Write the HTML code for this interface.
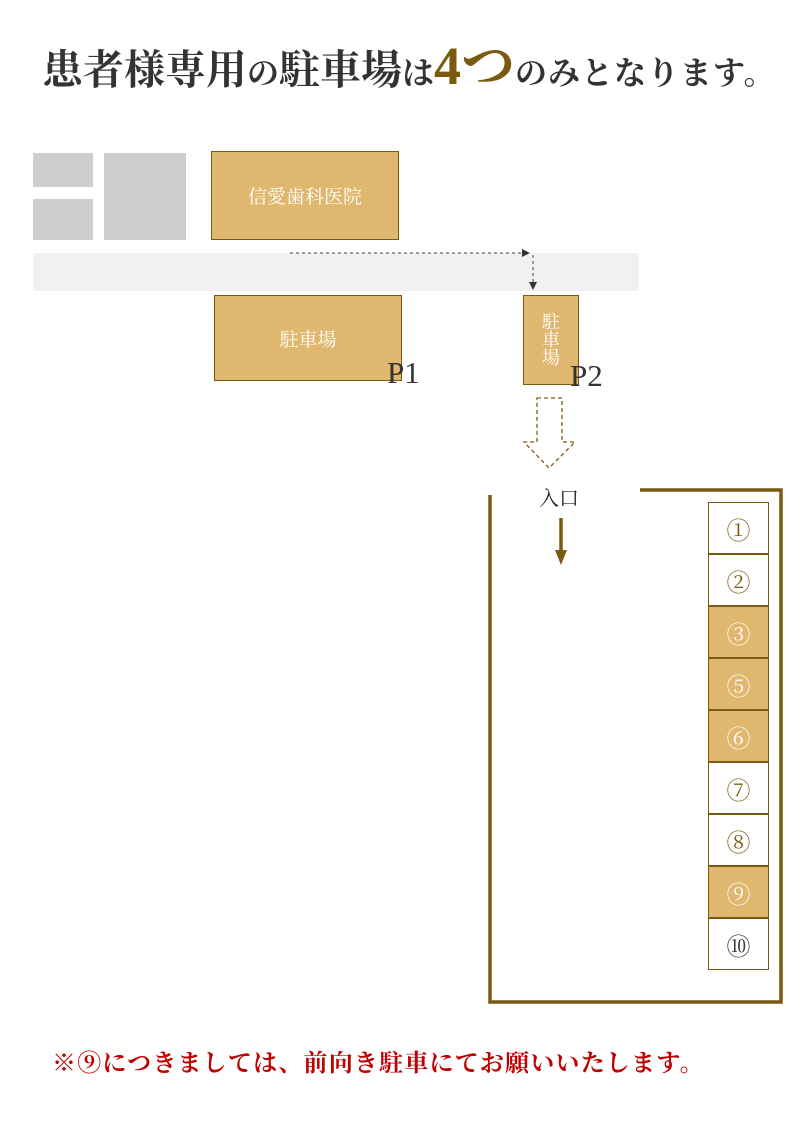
<!DOCTYPE html>
<html><head><meta charset="utf-8"><style>
body{margin:0;width:800px;height:1132px;background:#fff;position:relative;overflow:hidden;font-family:"Liberation Serif","Noto Serif CJK SC",serif}
.a{position:absolute;box-sizing:border-box}
.g{background:#dfb76e;border:1.5px solid #7a5a10;color:#fff;display:flex;align-items:center;justify-content:center;font-size:19px}
.s{position:absolute;left:708px;width:61px;height:52px;border:1.5px solid #7a5a10;box-sizing:border-box;display:flex;align-items:center;justify-content:center;font-size:24px;color:#7a5a10;background:#fff}
.s.f{background:#dfb76e;color:#fff}
</style></head><body>
<div class="a" style="left:42px;top:34px;white-space:nowrap;color:#333;line-height:64px;font-weight:bold">
<span style="font-size:41px">患者様専用</span><span style="font-size:32px">の</span><span style="font-size:41px">駐車場</span><span style="font-size:32px">は</span><span style="font-size:54px;color:#7a5a10">4つ</span><span style="font-size:32px;letter-spacing:1px">のみとなります。</span>
</div>
<div class="a" style="left:33px;top:153px;width:60px;height:34px;background:#cfcdcf"></div>
<div class="a" style="left:33px;top:199px;width:60px;height:41px;background:#cfcdcf"></div>
<div class="a" style="left:104px;top:153px;width:82px;height:87px;background:#cfcdcf"></div>
<div class="a g" style="left:211px;top:151px;width:188px;height:89px">信愛歯科医院</div>
<div class="a" style="left:33px;top:253px;width:606px;height:38px;background:#f1f1f1"></div>
<svg class="a" style="left:0;top:0" width="800" height="1132">
<path d="M290 253H524" stroke="#444" stroke-dasharray="3,3" fill="none"/>
<path d="M522 249L530 253L522 257Z" fill="#333"/>
<path d="M533 255V284" stroke="#444" stroke-dasharray="3,3" fill="none"/>
<path d="M529 282L533 290L537 282Z" fill="#333"/>
<path d="M537 398H562V442H575L549 468L524 442H537Z" fill="#fff" stroke="#7a5a10" stroke-dasharray="4,3" stroke-width="1.3"/>
<path d="M490 495V1002H781V490H640" stroke="#7a5a10" stroke-width="3.5" fill="none"/>
<path d="M561 518V552" stroke="#7a5a10" stroke-width="3.5"/>
<path d="M555 550L561 565L567 550Z" fill="#7a5a10"/>
</svg>
<div class="a g" style="left:214px;top:295px;width:188px;height:86px">駐車場</div>
<div class="a g" style="left:523px;top:295px;width:56px;height:90px;flex-direction:column;line-height:18px;font-size:18px">駐<br>車<br>場</div>
<div class="a" style="left:387px;top:355px;font-size:31px;color:#333">P1</div>
<div class="a" style="left:570px;top:358px;font-size:31px;color:#333">P2</div>
<div class="a" style="left:539px;top:482px;font-size:20px;color:#222">入口</div>
<div class="s" style="top:502px">①</div>
<div class="s" style="top:554px">②</div>
<div class="s f" style="top:606px">③</div>
<div class="s f" style="top:658px">⑤</div>
<div class="s f" style="top:710px">⑥</div>
<div class="s" style="top:762px">⑦</div>
<div class="s" style="top:814px">⑧</div>
<div class="s f" style="top:866px">⑨</div>
<div class="s" style="top:918px;color:#333">⑩</div>
<div class="a" style="left:52px;top:1043px;font-size:24px;letter-spacing:1.2px;color:#c00000;font-weight:bold;white-space:nowrap">※⑨につきましては、前向き駐車にてお願いいたします。</div>
</body></html>
